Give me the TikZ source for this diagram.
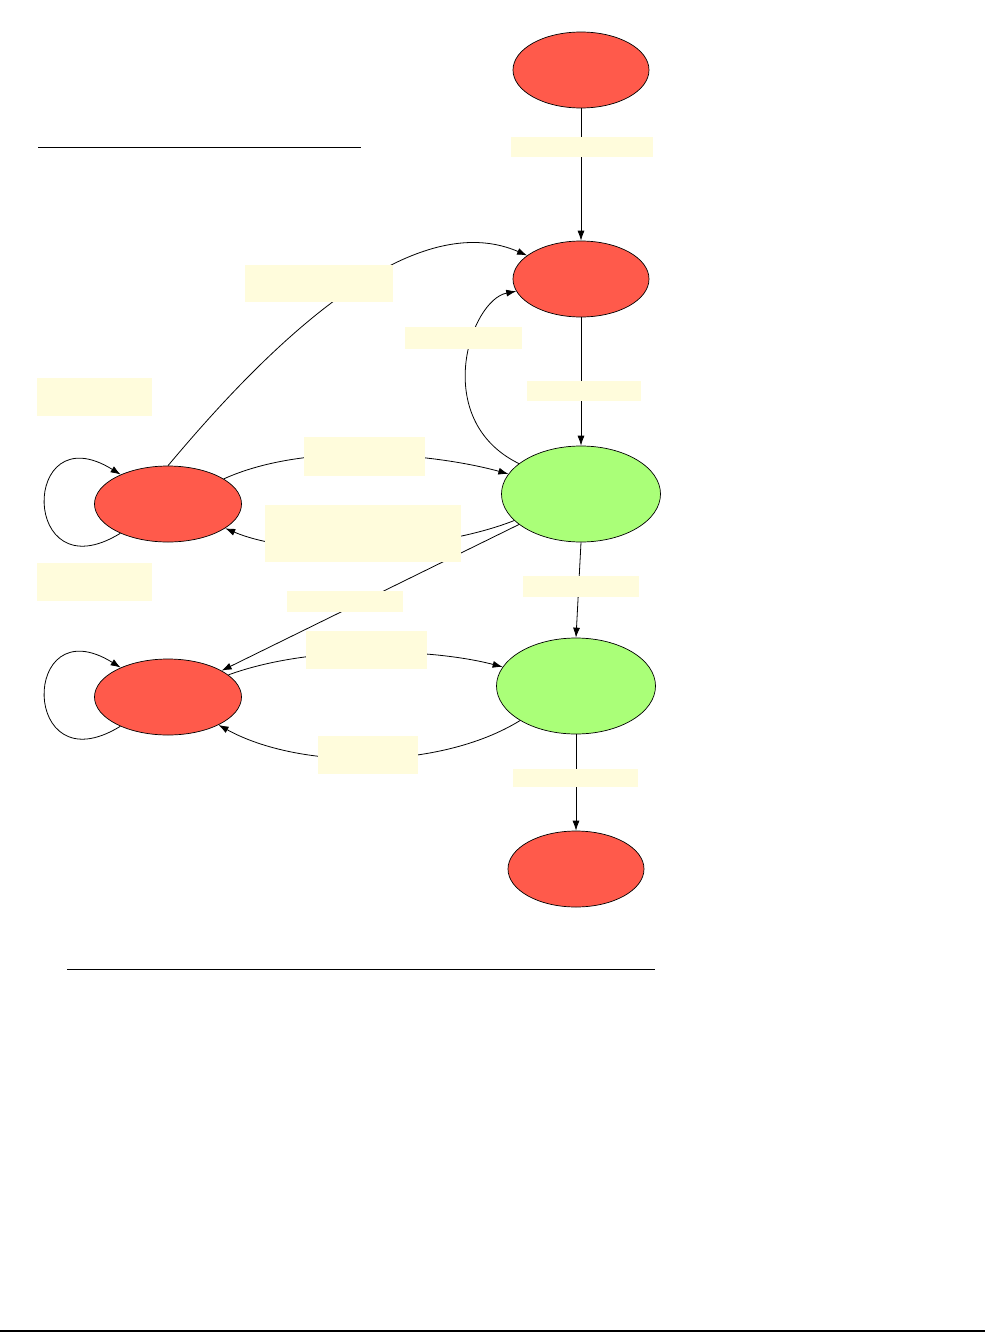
\documentclass[tikz,border=0pt]{standalone}
\usetikzlibrary{arrows.meta,shapes.geometric}

\definecolor{stopred}{RGB}{255,90,75}
\definecolor{rungreen}{RGB}{170,255,120}
\definecolor{notebg}{RGB}{255,252,220}

\begin{document}
\begin{tikzpicture}[x=1pt, y=-1pt, line width=0.8pt,
    state/.style={draw, ellipse, inner sep=0pt, line width=0.7pt},
    redstate/.style={state, fill=stopred, minimum width=136pt, minimum height=76pt},
    greenstate/.style={state, fill=rungreen, minimum width=159pt, minimum height=96pt},
    sidestate/.style={state, fill=stopred, minimum width=147pt, minimum height=76pt},
    note/.style={fill=notebg, inner sep=0pt},
    trans/.style={-{Latex[length=10pt,width=7pt]}}]

    \useasboundingbox (0,0) rectangle (985,1333);

    % States
    \node[redstate] (init) at (581,70) {};
    \node[redstate] (ready) at (581,279) {};
    \node[greenstate] (run) at (581,494) {};
    \node[greenstate] (busy) at (576,686) {};
    \node[redstate] (done) at (576,869) {};
    \node[sidestate] (wait) at (168,504) {};
    \node[sidestate] (hold) at (168,697) {};

    % Main column
    \draw[trans] (init) -- (ready);
    \draw[trans] (ready) -- (run);
    \draw[trans] (run.south) -- (busy.north);
    \draw[trans] (busy) -- (done);

    % Side transitions
    \draw[trans] (run) .. controls (430,420) and (470,300) .. (ready);
    \draw[trans] (wait.north) .. controls (240,380) and (400,200) .. (ready);
    \draw[trans] (wait) .. controls (310,440) and (440,455) .. (run);
    \draw[trans] (run) .. controls (440,550) and (300,560) .. (wait);
    \draw[trans] (run) -- (hold);
    \draw[trans] (hold) .. controls (310,645) and (430,648) .. (busy);
    \draw[trans] (busy) .. controls (440,770) and (300,770) .. (hold);

    % Self loops
    \draw[trans] (wait) .. controls (20,595) and (20,412) .. (wait);
    \draw[trans] (hold) .. controls (20,788) and (20,605) .. (hold);

    % Labels
    \node[note, minimum width=142pt, minimum height=20pt] (lblinit) at (582,147) {};
    \node[note, minimum width=148pt, minimum height=37pt] (lblwake) at (319,283.5) {};
    \node[note, minimum width=117pt, minimum height=22pt] (lblback) at (463.5,338) {};
    \node[note, minimum width=114pt, minimum height=20pt] (lblready) at (584,391) {};
    \node[note, minimum width=115pt, minimum height=38pt] (lblwaitloop) at (94.5,397) {};
    \node[note, minimum width=121pt, minimum height=39pt] (lblresume) at (364.5,456) {};
    \node[note, minimum width=196pt, minimum height=57pt] (lblsuspend) at (363,533.5) {};
    \node[note, minimum width=115pt, minimum height=38pt] (lblholdloop) at (94.5,582) {};
    \node[note, minimum width=116pt, minimum height=21pt] (lblhold) at (345,601.5) {};
    \node[note, minimum width=116pt, minimum height=21pt] (lblbusy) at (581,586.5) {};
    \node[note, minimum width=121pt, minimum height=38pt] (lblrelease) at (366,650) {};
    \node[note, minimum width=100pt, minimum height=38pt] (lblblock) at (368,755) {};
    \node[note, minimum width=125pt, minimum height=18pt] (lbldone) at (575.5,778) {};

    % Rules
    \draw (38,147) -- (361,147);
    \draw (67,969) -- (655,969);
    \draw[line width=2pt] (0,1331) -- (985,1331);

\end{tikzpicture}
\end{document}
